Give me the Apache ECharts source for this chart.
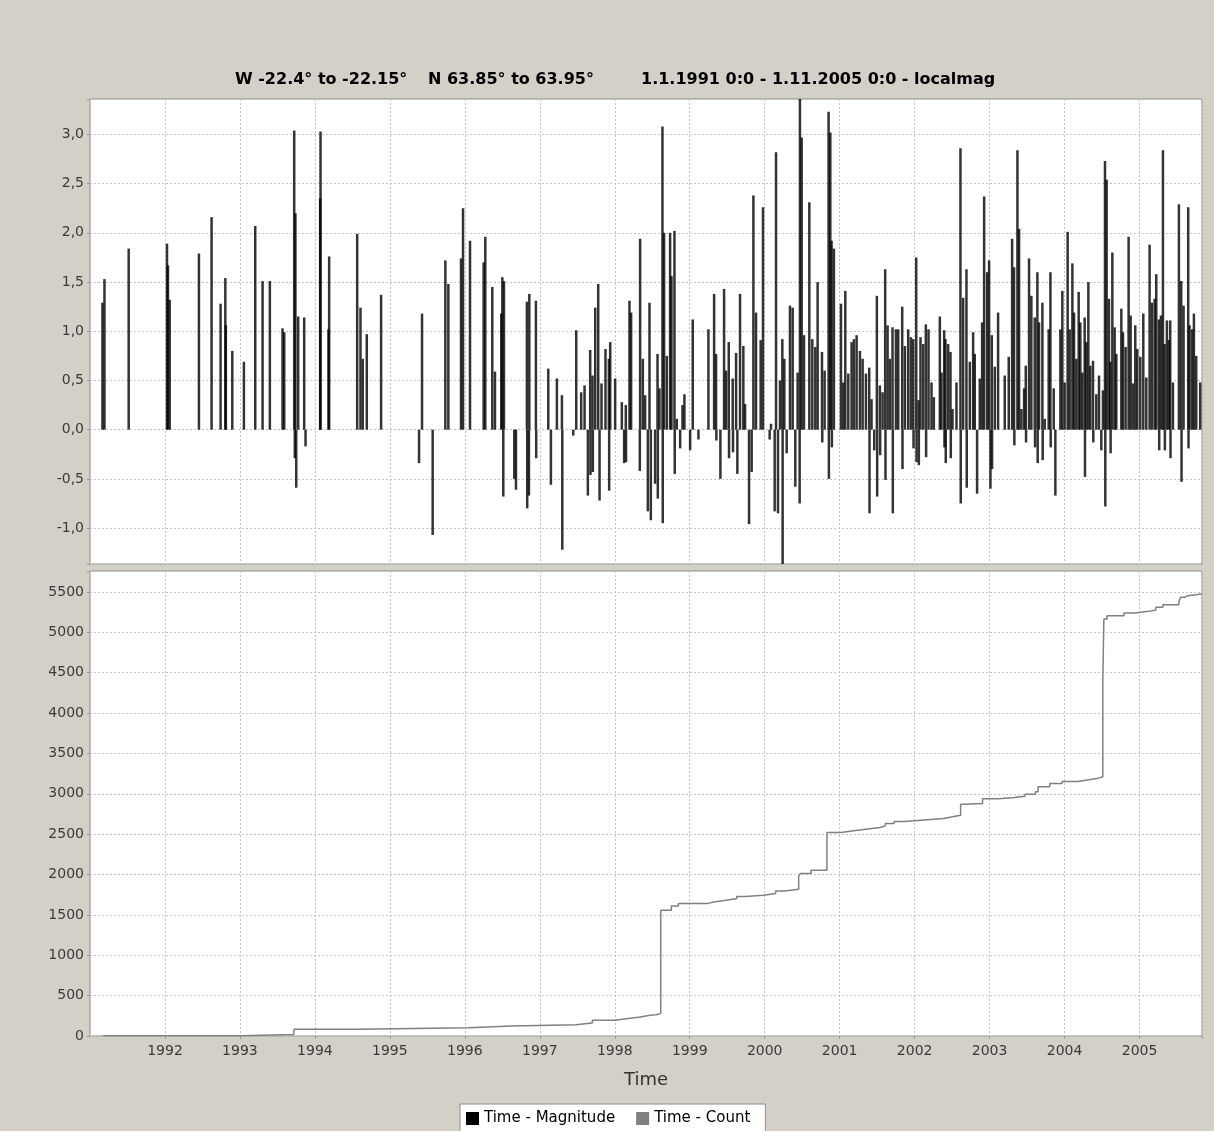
<!DOCTYPE html>
<html>
<head>
<meta charset="utf-8">
<title>localmag</title>
<script src="https://cdn.jsdelivr.net/npm/echarts@6/dist/echarts.min.js"></script>
<style>
  html, body { margin: 0; padding: 0; background: #d4d0c8; }
  #chart { width: 1214px; height: 1131px; }
</style>
</head>
<body>
<div id="chart"></div>
<script>
// event times (decimal years) and local magnitudes
var magTime = [
  1991.166, 1991.193, 1991.516, 1992.027, 1992.040, 1992.063, 1992.453, 1992.622, 1992.742, 1992.805,
  1992.812, 1992.898, 1993.053, 1993.204, 1993.302, 1993.399, 1993.568, 1993.591, 1993.724, 1993.732,
  1993.740, 1993.751, 1993.777, 1993.857, 1993.875, 1994.070, 1994.075, 1994.181, 1994.190, 1994.564,
  1994.608, 1994.638, 1994.692,
  1994.883, 1995.389, 1995.429, 1995.571, 1995.740, 1995.780, 1995.949, 1995.976, 1996.069, 1996.251,
  1996.273, 1996.366, 1996.402, 1996.486, 1996.500, 1996.513, 1996.522, 1996.660, 1996.682, 1996.828,
  1996.832, 1996.855, 1996.860, 1996.948, 1996.952, 1997.113, 1997.148, 1997.228, 1997.295, 1997.300,
  1997.446, 1997.486, 1997.552, 1997.597, 1997.641, 1997.672, 1997.676, 1997.703, 1997.707, 1997.739,
  1997.779, 1997.797, 1997.823, 1997.876, 1997.921, 1997.925, 1997.939, 1998.005, 1998.094, 1998.125,
  1998.147, 1998.150, 1998.196, 1998.218, 1998.334, 1998.338, 1998.374, 1998.405, 1998.441, 1998.463,
  1998.481, 1998.538, 1998.570, 1998.574, 1998.596, 1998.636, 1998.640, 1998.658, 1998.694, 1998.738,
  1998.756, 1998.796, 1998.800, 1998.827, 1998.872, 1998.903, 1998.929, 1999.005, 1999.040, 1999.116,
  1999.249, 1999.325, 1999.351, 1999.355, 1999.409, 1999.458, 1999.484, 1999.520, 1999.524, 1999.573,
  1999.577, 1999.618, 1999.635, 1999.671, 1999.715, 1999.738, 1999.791, 1999.826, 1999.849, 1999.884,
  1999.946, 1999.977, 2000.066, 2000.084, 2000.133, 2000.151, 2000.177, 2000.204, 2000.235, 2000.239,
  2000.262, 2000.293, 2000.337, 2000.373, 2000.408, 2000.439, 2000.466, 2000.470, 2000.493, 2000.524,
  2000.595, 2000.635, 2000.675, 2000.706, 2000.764, 2000.768, 2000.799, 2000.852, 2000.856, 2000.875,
  2000.892, 2000.896, 2000.923, 2001.017, 2001.048, 2001.075, 2001.115, 2001.159, 2001.190, 2001.226,
  2001.270, 2001.306, 2001.350, 2001.394, 2001.398, 2001.425, 2001.461, 2001.496, 2001.500, 2001.536,
  2001.540, 2001.572, 2001.607, 2001.611, 2001.639, 2001.670, 2001.705, 2001.709, 2001.750, 2001.781,
  2001.834, 2001.838, 2001.870, 2001.914, 2001.950, 2001.981, 2001.985, 2002.021, 2002.025, 2002.052,
  2002.056, 2002.078, 2002.114, 2002.149, 2002.153, 2002.185,
  2002.225, 2002.256, 2002.336, 2002.358, 2002.394, 2002.398, 2002.411, 2002.415, 2002.447, 2002.478,
  2002.482, 2002.505, 2002.558, 2002.611, 2002.615, 2002.647, 2002.691, 2002.695, 2002.736, 2002.780,
  2002.802, 2002.833, 2002.869, 2002.900, 2002.927, 2002.967, 2002.993, 2003.011, 2003.029, 2003.033,
  2003.069, 2003.113, 2003.202, 2003.255, 2003.300, 2003.326, 2003.330, 2003.371, 2003.393, 2003.424,
  2003.460, 2003.482, 2003.486, 2003.526, 2003.557, 2003.602, 2003.606, 2003.637, 2003.641, 2003.659,
  2003.704, 2003.708, 2003.735, 2003.788, 2003.811, 2003.815, 2003.855, 2003.877, 2003.944, 2003.970,
  2004.001, 2004.041, 2004.068, 2004.104, 2004.126, 2004.157, 2004.188, 2004.210, 2004.237, 2004.268,
  2004.272, 2004.290, 2004.317, 2004.343, 2004.379, 2004.383, 2004.423, 2004.459, 2004.490, 2004.512,
  2004.539, 2004.543, 2004.561, 2004.592, 2004.610, 2004.614, 2004.637, 2004.668, 2004.690, 2004.757,
  2004.779, 2004.814, 2004.854, 2004.881, 2004.912, 2004.943, 2004.970, 2005.010, 2005.050, 2005.090,
  2005.134, 2005.165, 2005.201, 2005.223, 2005.258, 2005.262, 2005.285, 2005.312, 2005.334, 2005.338,
  2005.365, 2005.392, 2005.409, 2005.413, 2005.445, 2005.525, 2005.556, 2005.560, 2005.587, 2005.649,
  2005.653, 2005.667, 2005.702, 2005.725, 2005.756, 2005.809
];
var magValue = [
  1.29, 1.53, 1.84, 1.89, 1.67, 1.32, 1.79, 2.16, 1.28, 1.54,
  1.06, 0.80, 0.69, 2.07, 1.51, 1.51, 1.03, 0.99, 3.04, -0.29,
  2.20, -0.59, 1.15, 1.14, -0.17, 2.35, 3.03, 1.02, 1.76, 1.99,
  1.24, 0.72, 0.97,
  1.37, -0.34, 1.18, -1.07, 1.72, 1.48, 1.74, 2.25, 1.92, 1.70,
  1.96, 1.45, 0.59, 1.18, 1.55, -0.68, 1.51, -0.50, -0.61, 1.30,
  -0.80, -0.67, 1.38, 1.31, -0.29, 0.62, -0.56, 0.52, 0.35, -1.22,
  -0.06, 1.01, 0.38, 0.45, -0.67, 0.81, -0.46, 0.55, -0.43, 1.24,
  1.48, -0.72, 0.47, 0.82, 0.72, -0.62, 0.89, 0.52, 0.28, -0.34,
  0.25, -0.33, 1.31, 1.19, -0.42, 1.94, 0.72, 0.35, -0.83, 1.29,
  -0.92, -0.55, 0.77, -0.70, 0.42, 3.08, -0.95, 2.00, 0.75, 2.00,
  1.56, 2.02, -0.45, 0.11, -0.19, 0.25, 0.36, -0.21, 1.12, -0.10,
  1.02, 1.38, 0.77, -0.11, -0.50, 1.43, 0.60, 0.89, -0.29, 0.52,
  -0.23, 0.78, -0.45, 1.38, 0.85, 0.26, -0.96, -0.43, 2.38, 1.19,
  0.91, 2.26, -0.10, 0.06, -0.83, 2.82, -0.85, 0.50, 0.92, -1.40,
  0.72, -0.24, 1.26, 1.24, -0.58, 0.58, -0.75, 3.45, 2.97, 0.96,
  2.31, 0.92, 0.84, 1.50, 0.79, -0.13, 0.60, 3.23, -0.50, 3.02,
  1.92, -0.18, 1.84, 1.28, 0.48, 1.41, 0.57, 0.89, 0.92, 0.96,
  0.80, 0.72, 0.57, 0.63, -0.85, 0.31, -0.21, 1.36, -0.68, 0.45,
  -0.26, 0.38, 1.63, -0.51, 1.06, 0.72, 1.04, -0.85, 1.02, 1.02,
  1.25, -0.40, 0.85, 1.02, 0.94, 0.92, -0.19, 1.75, -0.33, 0.30,
  -0.36, 0.94, 0.87, 1.07, -0.28, 1.02,
  0.48, 0.33, 1.15, 0.58, 1.01, -0.18, 0.92, -0.34, 0.87, 0.79,
  -0.29, 0.21, 0.48, 2.86, -0.75, 1.34, 1.63, -0.59, 0.69, 0.99,
  0.77, -0.65, 0.52, 1.09, 2.37, 1.60, 1.72, -0.60, 0.96, -0.40,
  0.64, 1.19, 0.55, 0.74, 1.94, 1.65, -0.16, 2.84, 2.04, 0.21,
  0.42, 0.65, -0.13, 1.74, 1.36, 1.14, -0.18, 1.60, -0.34, 1.09,
  1.29, -0.31, 0.11, 1.02, 1.60, -0.18, 0.42, -0.67, 1.02, 1.41,
  0.48, 2.01, 1.02, 1.69, 1.19, 0.72, 1.40, 1.09, 0.58, 1.14,
  -0.48, 0.89, 1.50, 0.65, 0.70, -0.13, 0.36, 0.55, -0.21, 0.40,
  2.73, -0.78, 2.54, 1.33, 0.69, -0.24, 1.80, 1.04, 0.77, 1.23,
  0.99, 0.84, 1.96, 1.16, 0.47, 1.06, 0.82, 0.74, 1.18, 0.53,
  1.88, 1.29, 1.33, 1.58, 1.12, -0.21, 1.16, 2.84, 0.87, -0.21,
  1.11, 0.91, 1.11, -0.29, 0.48, 2.29, 1.51, -0.53, 1.26, 2.26,
  -0.19, 1.06, 1.02, 1.18, 0.75, 0.48
];

// cumulative number of events
var countTime = [
  1991.17, 1993.01, 1993.72, 1994.58, 1996.05, 1996.62, 1997.48, 1997.70, 1998.01, 1998.15,
  1998.34, 1998.47, 1998.55, 1998.613, 1998.755, 1998.849, 1999.227, 1999.321, 1999.486, 1999.627,
  1999.745, 1999.981, 2000.146, 2000.264, 2000.453, 2000.477, 2000.618, 2000.830, 2001.019, 2001.184,
  2001.349, 2001.538, 2001.609, 2001.727, 2001.868, 2002.128, 2002.387, 2002.505, 2002.613, 2002.646,
  2002.906, 2003.118, 2003.330, 2003.472, 2003.613, 2003.646, 2003.802, 2003.967, 2004.179, 2004.321,
  2004.450, 2004.510, 2004.524, 2004.566, 2004.792, 2004.934, 2005.123, 2005.217, 2005.312, 2005.524,
  2005.547, 2005.600, 2005.642, 2005.833
];
var countValue = [
  2, 20, 83, 103, 124, 140, 161, 194, 215, 235,
  256, 262, 277, 1558, 1611, 1640, 1661, 1682, 1702, 1727,
  1744, 1764, 1797, 1818, 1983, 2012, 2054, 2520, 2541, 2562,
  2583, 2603, 2632, 2657, 2677, 2694, 2715, 2735, 2872, 2880,
  2938, 2954, 2971, 2996, 3025, 3087, 3128, 3153, 3173, 3194,
  3211, 4421, 5165, 5206, 5239, 5260, 5277, 5310, 5343, 5372,
  5434, 5454, 5475, 5475
];

var titleParts = ['W -22.4° to -22.15°', 'N 63.85° to 63.95°', '1.1.1991 0:0 - 1.11.2005 0:0 - localmag'];
var yearMin = 1991, yearMax = 2005.833;

var chart = echarts.init(document.getElementById('chart'));

var magData = magTime.map(function (t, i) { return [t, magValue[i]]; });
var countData = countTime.map(function (t, i) { return [t, countValue[i]]; });

var font = 'DejaVu Sans';
var gridLine = { show: true, lineStyle: { color: '#c4c4c4', type: [2, 2], width: 1 } };

function yearLabel(v) {
    return (Math.abs(v - Math.round(v)) < 1e-6 && v > yearMin) ? String(Math.round(v)) : '';
}
function magLabel(v) {
    var r = Math.round(v * 2) / 2;
    if (Math.abs(v - r) > 1e-6) return '';
    return r.toFixed(1).replace('.', ',');
}
function countLabel(v) {
    return (Math.abs(v % 500) < 1e-6) ? String(v) : '';
}

var option = {
    backgroundColor: '#d4d0c8',
    animation: false,
    title: [
        { text: titleParts[0], left: 235, top: 72 },
        { text: titleParts[1], left: 428, top: 72 },
        { text: titleParts[2], left: 641, top: 72 }
    ].map(function (t) {
        t.padding = 0;
        t.textStyle = { fontFamily: font, fontWeight: 'bold', fontSize: 16, color: '#000' };
        return t;
    }),
    legend: {
        left: 460, top: 1104,
        padding: [7, 15, 8, 6],
        backgroundColor: '#fff',
        borderColor: '#8c8c8c',
        borderWidth: 1,
        borderRadius: 0,
        itemWidth: 13, itemHeight: 13, itemGap: 21,
        selectedMode: false,
        textStyle: { fontFamily: font, fontSize: 15, color: '#000' },
        data: [
            { name: 'Time - Magnitude', icon: 'rect', itemStyle: { color: '#000', opacity: 1 } },
            { name: 'Time - Count', icon: 'rect', itemStyle: { color: '#808080', opacity: 1 } }
        ]
    },
    grid: [
        { left: 90, top: 99, width: 1112, height: 465, show: true, backgroundColor: '#fff', borderColor: '#8c8c8c', borderWidth: 1 },
        { left: 90, top: 571, width: 1112, height: 465, show: true, backgroundColor: '#fff', borderColor: '#8c8c8c', borderWidth: 1 }
    ],
    xAxis: [
        {
            type: 'value', gridIndex: 0, min: yearMin, max: yearMax, interval: 1,
            axisLine: { show: false }, axisTick: { show: false }, axisLabel: { show: false },
            splitLine: gridLine
        },
        {
            type: 'value', gridIndex: 1, min: yearMin, max: yearMax, interval: 1,
            name: 'Time', nameLocation: 'middle', nameGap: 35,
            nameTextStyle: { fontFamily: font, fontSize: 18, color: '#333' },
            axisLine: { show: false },
            axisTick: { show: true, length: 3, lineStyle: { color: '#999' } },
            axisLabel: { margin: 8, fontFamily: font, fontSize: 14, color: '#3a3a3a', formatter: yearLabel, showMinLabel: false },
            splitLine: gridLine
        }
    ],
    yAxis: [
        {
            type: 'value', gridIndex: 0, min: -1.365, max: 3.36, splitNumber: 9,
            axisLine: { show: false },
            axisTick: { show: true, length: 3, lineStyle: { color: '#999' } },
            axisLabel: { margin: 6, fontFamily: font, fontSize: 14, color: '#3a3a3a', formatter: magLabel },
            splitLine: gridLine
        },
        {
            type: 'value', gridIndex: 1, min: 0, max: 5760, interval: 500,
            axisLine: { show: false },
            axisTick: { show: true, length: 3, lineStyle: { color: '#999' } },
            axisLabel: { margin: 6, fontFamily: font, fontSize: 14, color: '#3a3a3a', formatter: countLabel },
            splitLine: gridLine
        }
    ],
    series: [
        {
            name: 'Time - Magnitude',
            type: 'bar',
            xAxisIndex: 0, yAxisIndex: 0,
            barWidth: 2.5,
            clip: true,
            itemStyle: { color: 'rgba(0,0,0,0.8)' },
            data: magData
        },
        {
            name: 'Time - Count',
            type: 'line',
            xAxisIndex: 1, yAxisIndex: 1,
            step: 'end',
            symbol: 'none',
            itemStyle: { color: '#808080' },
            lineStyle: { color: '#808080', width: 1.5 },
            data: countData
        }
    ]
};

chart.setOption(option);
</script>
</body>
</html>
